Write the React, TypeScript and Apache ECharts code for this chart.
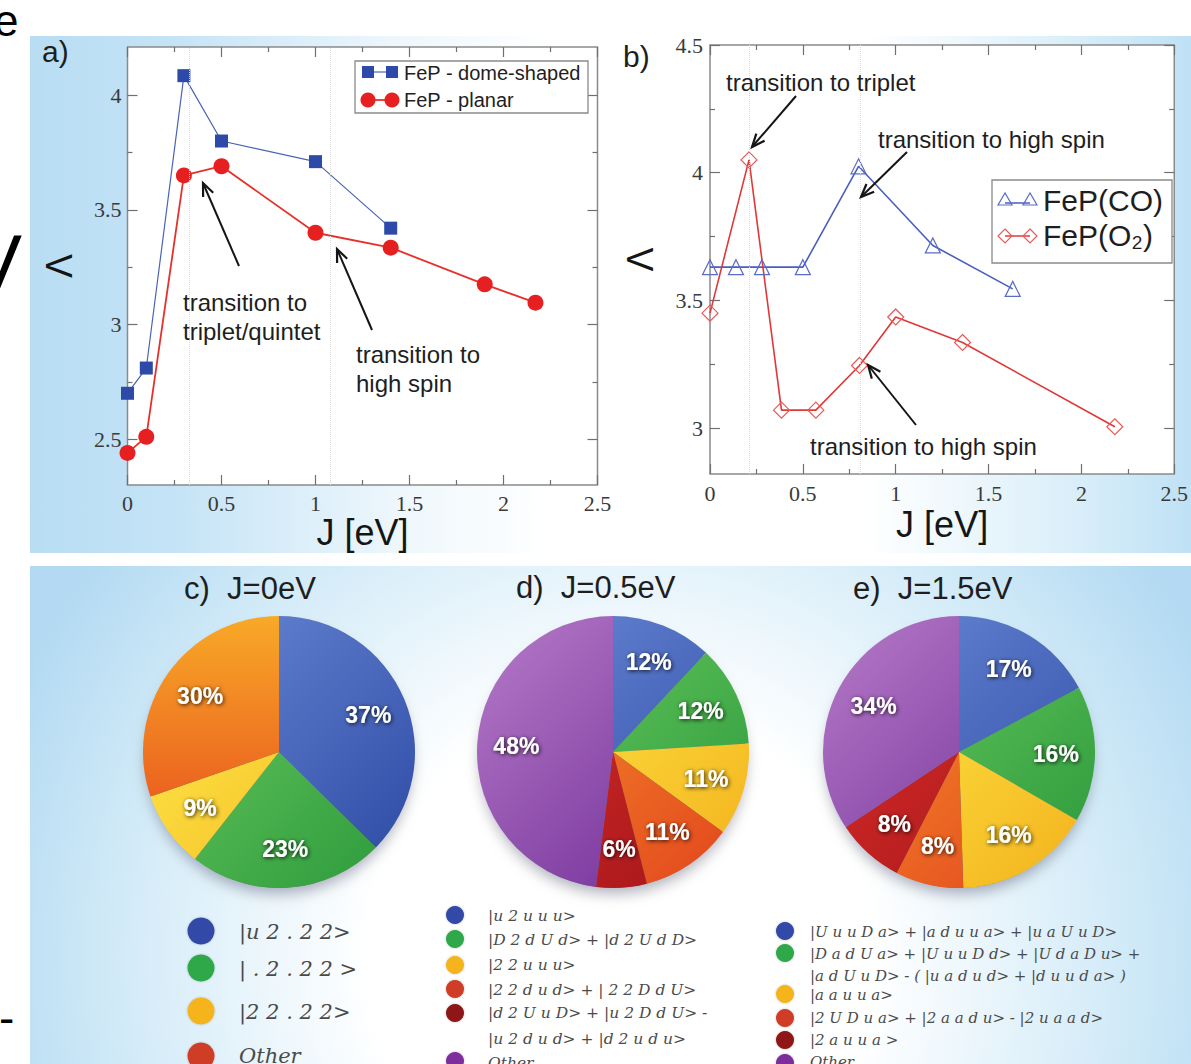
import React, { useEffect, useRef } from 'react';
import * as echarts from 'echarts';

// ---------- data ----------
const jDome = [0, 0.1, 0.3, 0.5, 1.0, 1.4];
const lambdaDome = [2.7, 2.81, 4.085, 3.8, 3.71, 3.42];
const jPlanar = [0, 0.1, 0.3, 0.5, 1.0, 1.4, 1.9, 2.17];
const lambdaPlanar = [2.44, 2.51, 3.65, 3.69, 3.4, 3.335, 3.175, 3.095];
const jCO = [0, 0.14, 0.28, 0.5, 0.8, 1.2, 1.63];
const lambdaCO = [3.63, 3.63, 3.63, 3.63, 4.025, 3.715, 3.545];
const jO2 = [0, 0.21, 0.385, 0.57, 0.805, 1.0, 1.36, 2.18];
const lambdaO2 = [3.45, 4.05, 3.07, 3.07, 3.245, 3.435, 3.335, 3.005];
const transitionsA = [0.333, 1.077];
const transitionsB = [0.21, 0.805];

const yMajorA = [2.5, 3, 3.5, 4];
const yMinorA = [2.75, 3.25, 3.75];
const yMajorB = [3, 3.5, 4, 4.5];
const yMinorB = [3.25, 3.75, 4.25];

const pieCValues = [37, 23, 9, 30];
const pieDValues = [12, 12, 11, 11, 6, 48];
const pieEValues = [17, 16, 16, 8, 8, 34];

const pieTitles = ['c)  J=0eV', 'd)  J=0.5eV', 'e)  J=1.5eV'];

const legendCLines = ['|u 2 . 2 2>', '| . 2 . 2 2 >', '|2 2 . 2 2>', 'Other'];
const legendDLines = [
  '|u 2 u u u>',
  '|D 2 d U d> + |d 2 U d D>',
  '|2 2 u u u>',
  '|2 2 d u d> + | 2 2 D d U>',
  '|d 2 U u D> + |u 2 D d U> -',
  '|u 2 d u d> + |d 2 u d u>',
  'Other',
];
const legendELines = [
  '|U u u D a> + |a d u u a> + |u a U u D>',
  '|D a d U a> + |U u u D d> + |U d a D u> +',
  '|a d U u D> - ( |u a d u d> + |d u u d a> )',
  '|a a u u a>',
  '|2 U D u a> + |2 a a d u> - |2 u a a d>',
  '|2 a u u a >',
  'Other',
];

// ---------- styling ----------
const SANS = '"Liberation Sans", Arial, Helvetica, sans-serif';
const SERIF = '"Liberation Serif", "Times New Roman", serif';
const WIDE_SERIF = '"DejaVu Serif", "Liberation Serif", serif';

const C = {
  blue: ['#6d8cd8', '#2b48a3'],
  green: ['#70cf62', '#2a983b'],
  yellow: ['#fff250', '#f3b01b'],
  orangeC: ['#f8a927', '#e53f1c'],
  orange: ['#f79a2c', '#e2421d'],
  darkred: ['#e0302a', '#a11419'],
  purple: ['#b67bc9', '#6a2692'],
};
const dot = {
  blue: '#3348a8',
  green: '#2ea84a',
  yellow: '#f5b31a',
  red: '#cf3d26',
  darkred: '#8e1515',
  purple: '#7d2d9c',
};

function grad(cx: number, cy: number, r: number, pair: string[], vertical = false) {
  return {
    type: 'linear',
    x: vertical ? cx : cx - r,
    y: cy - r,
    x2: vertical ? cx : cx + r,
    y2: cy + r,
    global: true,
    colorStops: [
      { offset: 0, color: pair[0] },
      { offset: 1, color: pair[1] },
    ],
  };
}

const tickStyle = { color: '#707070', width: 1.2 };
const tickLabel = { fontFamily: SERIF, fontSize: 22, color: '#3a3a3a' };

function xAxes(gi: number, margin: number, nameGap: number) {
  const base = {
    type: 'value',
    gridIndex: gi,
    min: 0,
    max: 2.5,
    interval: 0.5,
    axisLine: { show: false },
    axisTick: { show: true, inside: true, length: 10, lineStyle: tickStyle },
    minorTick: { show: true, splitNumber: 2, length: 5, lineStyle: tickStyle },
    splitLine: { show: false },
    minorSplitLine: { show: false },
  };
  return [
    {
      ...base,
      position: 'bottom',
      axisLabel: { show: true, margin, ...tickLabel },
      name: 'J [eV]',
      nameLocation: 'middle',
      nameGap,
      nameTextStyle: { fontFamily: SANS, fontSize: 36, color: '#151515' },
    },
    { ...base, position: 'top', axisLabel: { show: false } },
  ];
}

function yAxes(gi: number, min: number, max: number, majors: number[], minors: number[], margin: number, nameGap: number) {
  const base = {
    type: 'value',
    gridIndex: gi,
    min,
    max,
    axisLine: { show: false },
    splitLine: { show: false },
  };
  return [
    {
      ...base,
      position: 'left',
      axisTick: { show: true, inside: true, length: 10, lineStyle: tickStyle, customValues: majors },
      axisLabel: { show: true, margin, customValues: majors, ...tickLabel },
      name: 'Λ',
      nameLocation: 'middle',
      nameRotate: 90,
      nameGap,
      nameTextStyle: { fontFamily: SANS, fontSize: 36, color: '#151515' },
    },
    {
      ...base,
      position: 'left',
      axisTick: { show: true, inside: true, length: 5, lineStyle: tickStyle, customValues: minors },
      axisLabel: { show: false },
    },
    {
      ...base,
      position: 'right',
      axisTick: { show: true, inside: true, length: 10, lineStyle: tickStyle, customValues: majors },
      axisLabel: { show: false },
    },
    {
      ...base,
      position: 'right',
      axisTick: { show: true, inside: true, length: 5, lineStyle: tickStyle, customValues: minors },
      axisLabel: { show: false },
    },
  ];
}

const pairs = (xs: number[], ys: number[]) => xs.map((x, i) => [x, ys[i]]);

function vLines(values: number[]) {
  return {
    silent: true,
    symbol: 'none',
    label: { show: false },
    lineStyle: { type: 'dotted', color: '#dadada', width: 1 },
    data: values.map((v) => ({ xAxis: v })),
  };
}

type PieSpec = { cx: number; cy: number; r: number; values: number[]; colors: any[] };

function pieSeries(p: PieSpec) {
  const data = p.values.map((v, i) => ({ value: v, itemStyle: { color: p.colors[i] } }));
  return [
    {
      type: 'pie',
      center: [p.cx, p.cy],
      radius: [0, p.r],
      startAngle: 90,
      clockwise: true,
      silent: true,
      label: { show: false },
      labelLine: { show: false },
      emphasis: { disabled: true },
      itemStyle: { borderWidth: 0 },
      data,
    },
    {
      type: 'pie',
      center: [p.cx, p.cy],
      radius: [p.r * 0.38, p.r],
      startAngle: 90,
      clockwise: true,
      silent: true,
      z: 3,
      avoidLabelOverlap: false,
      itemStyle: { color: 'rgba(0,0,0,0)', borderWidth: 0 },
      labelLine: { show: false },
      emphasis: { disabled: true },
      label: {
        show: true,
        position: 'inside',
        formatter: '{c}%',
        color: '#ffffff',
        fontFamily: SANS,
        fontSize: 23,
        fontWeight: 'bold',
        textShadowColor: 'rgba(0,0,0,0.85)',
        textShadowBlur: 4,
        textShadowOffsetX: 1,
        textShadowOffsetY: 1,
      },
      data: p.values.map((v) => ({ value: v })),
    },
  ];
}

function txt(x: number, y: number, text: string, size: number, extra: any = {}) {
  return {
    type: 'text',
    x,
    y,
    z: 50,
    style: {
      text,
      fontSize: size,
      fontFamily: SANS,
      fill: '#1e1e1e',
      align: 'left',
      verticalAlign: 'middle',
      ...extra,
    },
  };
}

function arrow(x1: number, y1: number, x2: number, y2: number) {
  const dx = x2 - x1;
  const dy = y2 - y1;
  const L = Math.hypot(dx, dy);
  const ux = dx / L;
  const uy = dy / L;
  const nx = -uy;
  const ny = ux;
  const h = 13;
  const w = 5.5;
  return [
    { type: 'line', z: 50, shape: { x1, y1, x2, y2 }, style: { stroke: '#151515', lineWidth: 2 } },
    {
      type: 'polyline',
      z: 50,
      shape: {
        points: [
          [x2 - h * ux + w * nx, y2 - h * uy + w * ny],
          [x2, y2],
          [x2 - h * ux - w * nx, y2 - h * uy - w * ny],
        ],
      },
      style: { stroke: '#151515', lineWidth: 2.2, fill: null },
    },
  ];
}

function legendDots(x: number, ys: number[], colors: string[], r: number) {
  return ys.map((y, i) => ({
    type: 'circle',
    z: 50,
    shape: { cx: x, cy: y, r },
    style: { fill: colors[i], shadowBlur: 2, shadowColor: 'rgba(0,0,0,0.25)' },
  }));
}

function legendTexts(x: number, ys: number[], lines: string[], size: number) {
  return lines.map((t, i) =>
    txt(x, ys[i], t, size, { fontFamily: WIDE_SERIF, fontStyle: 'italic', fill: '#4a4a4a' })
  );
}

export default function App() {
  const ref = useRef<HTMLDivElement>(null);

  useEffect(() => {
    if (!ref.current) return;
    const chart = echarts.init(ref.current, undefined, { renderer: 'svg' });

    const pc: PieSpec = {
      cx: 279, cy: 752, r: 136, values: pieCValues,
      colors: [
        grad(279, 752, 136, C.blue),
        grad(279, 752, 136, C.green),
        grad(279, 752, 136, C.yellow),
        grad(279, 752, 136, C.orangeC, true),
      ],
    };
    const pd: PieSpec = {
      cx: 613, cy: 752, r: 136, values: pieDValues,
      colors: [
        grad(613, 752, 136, C.blue),
        grad(613, 752, 136, C.green),
        grad(613, 752, 136, C.yellow),
        grad(613, 752, 136, C.orange),
        grad(613, 752, 136, C.darkred),
        grad(613, 752, 136, C.purple),
      ],
    };
    const pe: PieSpec = {
      cx: 959, cy: 752, r: 136, values: pieEValues,
      colors: [
        grad(959, 752, 136, C.blue),
        grad(959, 752, 136, C.green),
        grad(959, 752, 136, C.yellow),
        grad(959, 752, 136, C.orange),
        grad(959, 752, 136, C.darkred),
        grad(959, 752, 136, C.purple),
      ],
    };

    const graphics: any[] = [
      // backgrounds
      {
        type: 'rect', z: -10, silent: true,
        shape: { x: 30, y: 36, width: 1161, height: 517 },
        style: {
          fill: {
            type: 'linear', x: 0, y: 0, x2: 1, y2: 0,
            colorStops: [
              { offset: 0, color: '#b8ddf3' },
              { offset: 0.12, color: '#c4e3f6' },
              { offset: 0.32, color: '#eef7fc' },
              { offset: 0.45, color: '#ffffff' },
              { offset: 0.72, color: '#ffffff' },
              { offset: 0.9, color: '#d9eef9' },
              { offset: 1, color: '#bfe1f5' },
            ],
          },
        },
      },
      {
        type: 'rect', z: -10, silent: true,
        shape: { x: 30, y: 566, width: 1161, height: 498 },
        style: {
          fill: {
            type: 'radial', x: 620, y: 960, r: 660, global: true,
            colorStops: [
              { offset: 0, color: '#ffffff' },
              { offset: 0.38, color: '#ffffff' },
              { offset: 0.75, color: '#d3ebf8' },
              { offset: 1, color: '#b3daf2' },
            ],
          },
        },
      },
      // pie drop shadows
      ...[pc, pd, pe].map((p) => ({
        type: 'circle', z: -5, silent: true,
        shape: { cx: p.cx, cy: p.cy + 3, r: p.r - 3 },
        style: { fill: 'rgba(40,50,70,0.55)', shadowBlur: 14, shadowOffsetY: 6, shadowColor: 'rgba(10,20,40,0.55)' },
      })),
      // cropped glyphs at left edge
      txt(-6, 20, 'e', 44, { fill: '#000' }),
      txt(-30, 262, 'V', 78, { fill: '#000' }),
      txt(-1, 1018, '-', 46, { fill: '#000' }),
      // panel labels
      txt(42, 51, 'a)', 30),
      txt(623, 56, 'b)', 30),
      // annotations a
      txt(183, 302, 'transition to', 24),
      txt(183, 331, 'triplet/quintet', 24),
      txt(356, 354, 'transition to', 24),
      txt(356, 383, 'high spin', 24),
      ...arrow(239, 266, 203, 183),
      ...arrow(372, 330, 337, 249),
      // annotations b
      txt(726, 82, 'transition to triplet', 24),
      txt(878, 139, 'transition to high spin', 24),
      txt(810, 446, 'transition to high spin', 24),
      ...arrow(796, 96, 752, 147),
      ...arrow(907, 152, 861, 197),
      ...arrow(916, 425, 868, 365),
      // legend a
      { type: 'rect', z: 50, shape: { x: 355, y: 61, width: 233, height: 52 }, style: { fill: '#fff', stroke: '#8a8a8a', lineWidth: 1.3 } },
      { type: 'line', z: 51, shape: { x1: 368, y1: 72, x2: 392, y2: 72 }, style: { stroke: '#4a62b8', lineWidth: 1.2 } },
      { type: 'rect', z: 52, shape: { x: 362, y: 66, width: 12, height: 12 }, style: { fill: '#2d4aa8' } },
      { type: 'rect', z: 52, shape: { x: 386, y: 66, width: 12, height: 12 }, style: { fill: '#2d4aa8' } },
      { type: 'line', z: 51, shape: { x1: 368, y1: 100, x2: 392, y2: 100 }, style: { stroke: '#e8302a', lineWidth: 1.8 } },
      { type: 'circle', z: 52, shape: { cx: 368, cy: 100, r: 7.5 }, style: { fill: '#e62020' } },
      { type: 'circle', z: 52, shape: { cx: 392, cy: 100, r: 7.5 }, style: { fill: '#e62020' } },
      txt(404, 73, 'FeP - dome-shaped', 20, { z: 53 }),
      txt(404, 100, 'FeP - planar', 20, { z: 53 }),
      // legend b
      { type: 'rect', z: 50, shape: { x: 992, y: 180, width: 180, height: 83 }, style: { fill: '#fff', stroke: '#8a8a8a', lineWidth: 1.3 } },
      { type: 'line', z: 51, shape: { x1: 1005, y1: 203, x2: 1030, y2: 203 }, style: { stroke: '#4a5ec0', lineWidth: 1.5 } },
      { type: 'polygon', z: 52, shape: { points: [[1005, 193], [998, 205], [1012, 205]] }, style: { fill: null, stroke: '#5a6ac8', lineWidth: 1.2 } },
      { type: 'polygon', z: 52, shape: { points: [[1030, 193], [1023, 205], [1037, 205]] }, style: { fill: null, stroke: '#5a6ac8', lineWidth: 1.2 } },
      { type: 'line', z: 51, shape: { x1: 1005, y1: 236, x2: 1030, y2: 236 }, style: { stroke: '#e03838', lineWidth: 1.5 } },
      { type: 'polygon', z: 52, shape: { points: [[1005, 229], [1012, 236], [1005, 243], [998, 236]] }, style: { fill: null, stroke: '#e85a5a', lineWidth: 1.2 } },
      { type: 'polygon', z: 52, shape: { points: [[1030, 229], [1037, 236], [1030, 243], [1023, 236]] }, style: { fill: null, stroke: '#e85a5a', lineWidth: 1.2 } },
      txt(1043, 200, 'FeP(CO)', 30, { z: 53 }),
      txt(1043, 235, 'FeP(O₂)', 30, { z: 53 }),
      // pie titles
      txt(184, 588, pieTitles[0], 31),
      txt(516, 587, pieTitles[1], 31),
      txt(853, 588, pieTitles[2], 31),
      // pie legends
      ...legendDots(201, [931, 968, 1011, 1056], [dot.blue, dot.green, dot.yellow, dot.red], 13.5),
      ...legendTexts(239, [932, 969, 1012, 1056], legendCLines, 21),
      ...legendDots(455, [915, 939, 965, 989, 1013, 1061], [dot.blue, dot.green, dot.yellow, dot.red, dot.darkred, dot.purple], 9),
      ...legendTexts(488, [916, 940, 965, 990, 1013, 1039, 1063], legendDLines, 15.5),
      ...legendDots(785, [931, 953, 994, 1018, 1040, 1063], [dot.blue, dot.green, dot.yellow, dot.red, dot.darkred, dot.purple], 9),
      ...legendTexts(810, [932, 954, 976, 995, 1018, 1040, 1062], legendELines, 15),
    ];

    const option: any = {
      animation: false,
      tooltip: { show: false },
      grid: [
        { left: 127.5, top: 47, width: 470, height: 438, show: true, backgroundColor: '#ffffff', borderColor: '#8a8a8a', borderWidth: 1.5 },
        { left: 710, top: 45, width: 470, height: 429, show: true, backgroundColor: '#ffffff', borderColor: '#8a8a8a', borderWidth: 1.5 },
      ],
      xAxis: [...xAxes(0, 7, 26), ...xAxes(1, 8, 32)],
      yAxis: [
        ...yAxes(0, 2.3, 4.21, yMajorA, yMinorA, 6, 50),
        ...yAxes(1, 2.82, 4.5, yMajorB, yMinorB, 7, 52),
      ],
      series: [
        {
          name: 'FeP - dome-shaped',
          type: 'line',
          xAxisIndex: 0,
          yAxisIndex: 0,
          data: pairs(jDome, lambdaDome),
          symbol: 'rect',
          symbolSize: 13,
          itemStyle: { color: '#2d4aa8' },
          lineStyle: { color: '#4a62b8', width: 1.2 },
          markLine: vLines(transitionsA),
        },
        {
          name: 'FeP - planar',
          type: 'line',
          xAxisIndex: 0,
          yAxisIndex: 0,
          data: pairs(jPlanar, lambdaPlanar),
          symbol: 'circle',
          symbolSize: 16,
          itemStyle: { color: '#e62020' },
          lineStyle: { color: '#e8302a', width: 1.8 },
        },
        {
          name: 'FeP(CO)',
          type: 'line',
          xAxisIndex: 2,
          yAxisIndex: 4,
          data: pairs(jCO, lambdaCO),
          symbol: 'triangle',
          symbolSize: 15,
          itemStyle: { color: 'rgba(255,255,255,0)', borderColor: '#5a6ac8', borderWidth: 1.2 },
          lineStyle: { color: '#4a5ec0', width: 1.6 },
          markLine: vLines(transitionsB),
        },
        {
          name: 'FeP(O2)',
          type: 'line',
          xAxisIndex: 2,
          yAxisIndex: 4,
          data: pairs(jO2, lambdaO2),
          symbol: 'diamond',
          symbolSize: 16,
          itemStyle: { color: 'rgba(255,255,255,0)', borderColor: '#e85a5a', borderWidth: 1.2 },
          lineStyle: { color: '#e03838', width: 1.6 },
        },
        ...pieSeries(pc),
        ...pieSeries(pd),
        ...pieSeries(pe),
      ],
      graphic: { elements: graphics },
    };

    chart.setOption(option);
    return () => chart.dispose();
  }, []);

  return (
    <div
      ref={ref}
      style={{ position: 'absolute', left: 0, top: 0, width: 1191, height: 1064, background: '#ffffff' }}
    />
  );
}
